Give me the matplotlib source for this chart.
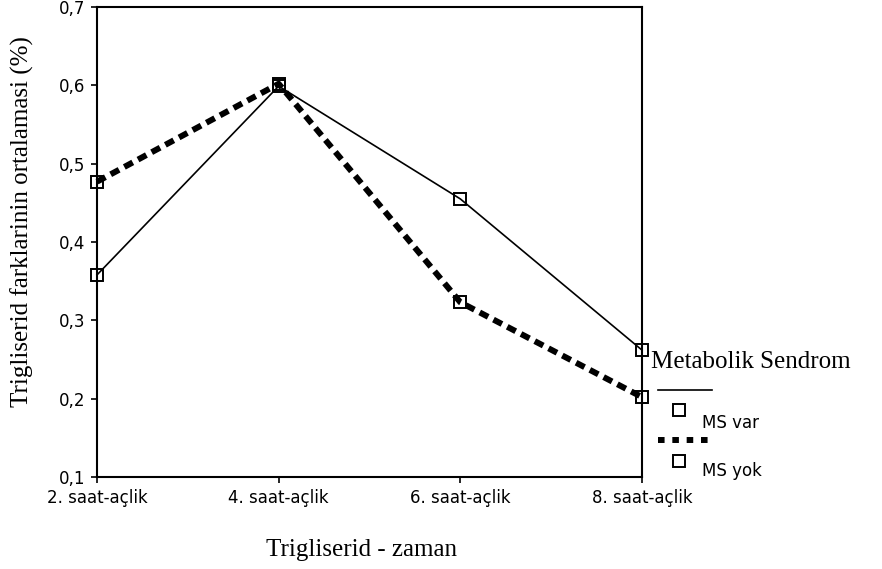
import matplotlib
matplotlib.use('Agg')
import matplotlib.pyplot as plt
from matplotlib.lines import Line2D
from matplotlib.ticker import FuncFormatter

# Data
zaman = ['2. saat-açlik', '4. saat-açlik', '6. saat-açlik', '8. saat-açlik']
ms_var = [0.358, 0.599, 0.455, 0.262]
ms_yok = [0.477, 0.602, 0.323, 0.202]
yticks = [0.1, 0.2, 0.3, 0.4, 0.5, 0.6, 0.7]

W, H = 882, 569
fig = plt.figure(figsize=(W / 100, H / 100), dpi=100)
ax = fig.add_axes([97 / W, 1 - 477 / H, (642 - 97) / W, (477 - 7) / H])

x = list(range(len(zaman)))

# MS yok: thick dashed line
ax.plot(x, ms_yok, color='black', lw=4.3, linestyle=(0, (1.6, 1.0)),
        marker='s', ms=8.5, mfc='none', mec='black', mew=1.4, clip_on=False, zorder=3)
# MS var: thin solid line
ax.plot(x, ms_var, color='black', lw=1.2,
        marker='s', ms=8.5, mfc='none', mec='black', mew=1.4, clip_on=False, zorder=4)

ax.set_xlim(0, 3)
ax.set_ylim(0.1, 0.7)
ax.set_xticks(x)
ax.set_xticklabels(zaman)
ax.set_yticks(yticks)
ax.yaxis.set_major_formatter(FuncFormatter(lambda v, p: f'{v:.1f}'.replace('.', ',')))

for s in ax.spines.values():
    s.set_linewidth(1.5)
ax.tick_params(direction='out', length=4.3, width=1.2, labelsize=12)
ax.tick_params(axis='y', pad=4)
ax.tick_params(axis='x', pad=4)
for lab in ax.get_xticklabels() + ax.get_yticklabels():
    lab.set_fontfamily('DejaVu Sans')

serif = 'Liberation Serif'
ax.set_xlabel('Trigliserid - zaman', fontsize=18, fontfamily=serif)
ax.xaxis.set_label_coords(0.486, -0.132)
ax.set_ylabel('Trigliserid farklarinin ortalamasi (%)', fontsize=18, fontfamily=serif)
ax.yaxis.set_label_coords(-0.115, 0.543)

# Legend drawn by hand to mimic the original layout
def fx(px):
    return px / W

def fy(py):
    return 1 - py / H

fig.text(fx(651), fy(362), 'Metabolik Sendrom', fontsize=18, fontfamily=serif,
         ha='left', va='center')
fig.add_artist(Line2D([fx(658), fx(712)], [fy(390), fy(390)], color='black', lw=1.2,
                      transform=fig.transFigure))
fig.add_artist(Line2D([fx(679)], [fy(410)], marker='s', ms=8.5, mfc='none', mec='black',
                      mew=1.4, transform=fig.transFigure))
fig.text(fx(702), fy(423), 'MS var', fontsize=12, fontfamily='DejaVu Sans',
         ha='left', va='center')
fig.add_artist(Line2D([fx(658), fx(712)], [fy(440), fy(440)], color='black', lw=4.3,
                      linestyle=(0, (1.1, 1.3)), transform=fig.transFigure))
fig.add_artist(Line2D([fx(679)], [fy(461)], marker='s', ms=8.5, mfc='none', mec='black',
                      mew=1.4, transform=fig.transFigure))
fig.text(fx(702), fy(471), 'MS yok', fontsize=12, fontfamily='DejaVu Sans',
         ha='left', va='center')

fig.savefig('out.png', dpi=100)
